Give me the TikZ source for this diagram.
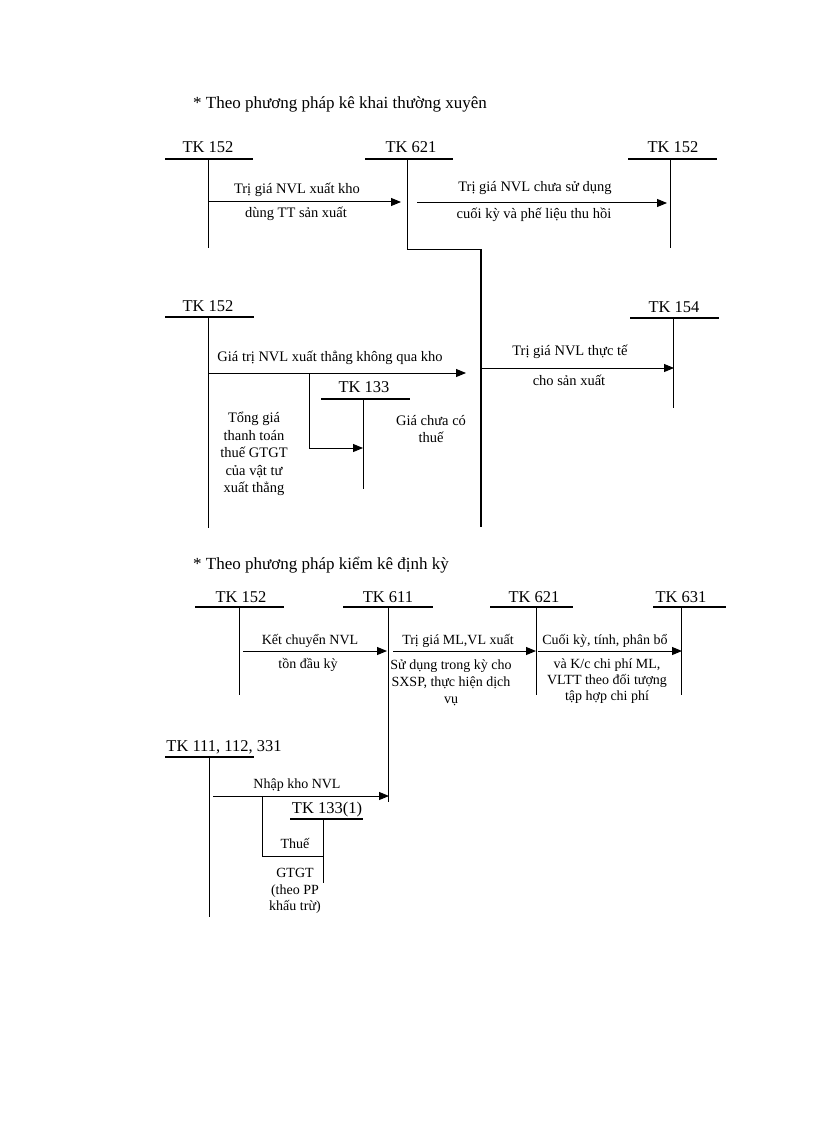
\documentclass[tikz,border=0pt]{standalone}
\usepackage{fontspec}
\setmainfont{Liberation Serif}
\usetikzlibrary{arrows.meta}
\tikzset{
  tk/.style={inner sep=0pt, font=\fontsize{16.5}{19}\selectfont},
  ttl/.style={inner sep=0pt, anchor=west, font=\fontsize{17}{20}\selectfont},
  lbl/.style={inner sep=0pt, font=\fontsize{14.5}{17.5}\selectfont},
  lbls/.style={inner sep=0pt, align=center, font=\fontsize{14}{16.5}\selectfont},
  uline/.style={line width=1.2pt},
  vline/.style={line width=1pt},
  heavy/.style={line width=2pt},
  flow/.style={line width=1pt, -{Triangle[length=10pt,width=8pt]}},
}
% #1 name, #2 label, #3 label x, #4 label y, #5 underline y, #6 left x, #7 right x, #8 vertical x, #9 bottom y
\newcommand{\tacct}[9]{%
  \node[tk] (#1) at (#3,#4) {#2};
  \coordinate (#1-l) at (#6,#5);
  \coordinate (#1-r) at (#7,#5);
  \coordinate (#1-t) at (#8,#5);
  \coordinate (#1-b) at (#8,#9);
  \draw[uline] (#1-l) -- (#1-r);
  \draw[vline] (#1-t) -- (#1-b);
}
\begin{document}
\begin{tikzpicture}[x=1pt,y=-1pt]
\useasboundingbox (0,0) rectangle (816,1123);

% ---------- Section 1 ----------
\node[ttl] (title1) at (193,104) {* Theo phương pháp kê khai thường xuyên};

\tacct{A}{TK 152}{208}{147}{159}{165}{253}{208}{248}
\tacct{B}{TK 621}{411}{147}{159}{365}{453}{407}{249}
\tacct{C}{TK 152}{673}{147}{159}{628}{717}{670}{248}

\coordinate (f1s) at (209,202);
\coordinate (f1e) at (401,202);
\draw[flow] (f1s) -- (f1e);
\node[lbl] (l1a) at (297,190) {Trị giá NVL xuất kho};
\node[lbl] (l1b) at (296,214) {dùng TT sản xuất};

\coordinate (f2s) at (417,203);
\coordinate (f2e) at (667,203);
\draw[flow] (f2s) -- (f2e);
\node[lbl] (l2a) at (535,188) {Trị giá NVL chưa sử dụng};
\node[lbl] (l2b) at (534,215) {cuối kỳ và phế liệu thu hồi};

\coordinate (Bturn) at (481,249);
\coordinate (Bdown) at (481,527);
\draw[vline] (B-b) -- (Bturn);
\draw[heavy] (Bturn) -- (Bdown);

% ---------- Section 2 ----------
\tacct{D}{TK 152}{208}{306}{317}{165}{254}{208}{528}
\tacct{E}{TK 133}{364}{387}{399}{321}{410}{363}{489}
\tacct{F}{TK 154}{674}{307}{318}{630}{719}{673}{408}

\coordinate (f3s) at (209,373);
\coordinate (f3e) at (466,373);
\draw[flow] (f3s) -- (f3e);
\node[lbl] (l3) at (330,358) {Giá trị NVL xuất thẳng không qua kho};

\coordinate (b1s) at (309,373);
\coordinate (b1c) at (309,448);
\coordinate (b1e) at (363,448);
\draw[flow] (b1s) -- (b1c) -- (b1e);

\node[lbl, align=center] (l4) at (254,454) {Tổng giá\\thanh toán\\thuế GTGT\\của vật tư\\xuất thẳng};
\node[lbl, align=center] (l5) at (431,429) {Giá chưa có\\thuế};

\coordinate (f4s) at (482,368);
\coordinate (f4e) at (674,368);
\draw[flow] (f4s) -- (f4e);
\node[lbl] (l6a) at (570,352) {Trị giá NVL thực tế};
\node[lbl] (l6b) at (569,380) {cho sản xuất};

% ---------- Section 3 ----------
\node[ttl] (title2) at (193,565) {* Theo phương pháp kiểm kê định kỳ};

\tacct{G}{TK 152}{241}{597}{607}{195}{284}{239}{695}
\tacct{H}{TK 611}{388}{597}{607}{343}{433}{388}{802}
\tacct{I}{TK 621}{534}{597}{607}{490}{573}{536}{695}
\tacct{J}{TK 631}{681}{597}{607}{653}{726}{681}{695}

\coordinate (f5s) at (243,651);
\coordinate (f5e) at (387,651);
\draw[flow] (f5s) -- (f5e);
\node[lbls] (l7a) at (310,641) {Kết chuyển NVL};
\node[lbls] (l7b) at (308,665) {tồn đầu kỳ};

\coordinate (f6s) at (393,651);
\coordinate (f6e) at (536,651);
\draw[flow] (f6s) -- (f6e);
\node[lbls] (l8a) at (458,641) {Trị giá ML,VL xuất};
\node[lbls, font=\fontsize{14}{17}\selectfont] (l8b) at (451,683) {Sử dụng trong kỳ cho\\SXSP, thực hiện dịch\\vụ};

\coordinate (f7s) at (538,651);
\coordinate (f7e) at (682,651);
\draw[flow] (f7s) -- (f7e);
\node[lbls] (l9a) at (605,641) {Cuối kỳ, tính, phân bổ};
\node[lbls, font=\fontsize{14}{16}\selectfont] (l9b) at (607,681) {và K/c chi phí ML,\\VLTT theo đối tượng\\tập hợp chi phí};

\tacct{K}{TK 111, 112, 331}{224}{747}{757}{165}{254}{209}{917}
\tacct{L}{TK 133(1)}{327}{810}{819}{290}{363}{323}{883}

\coordinate (f8s) at (213,796);
\coordinate (f8e) at (389,796);
\draw[flow] (f8s) -- (f8e);
\node[lbls] (l10) at (297,785) {Nhập kho NVL};

\coordinate (b2s) at (262,796);
\coordinate (b2c) at (262,856);
\coordinate (b2e) at (323,856);
\draw[vline] (b2s) -- (b2c) -- (b2e);

\node[lbls] (l11) at (295,843) {Thuế};
\node[lbls] (l12) at (295,891) {GTGT\\(theo PP\\khấu trừ)};
\end{tikzpicture}
\end{document}
